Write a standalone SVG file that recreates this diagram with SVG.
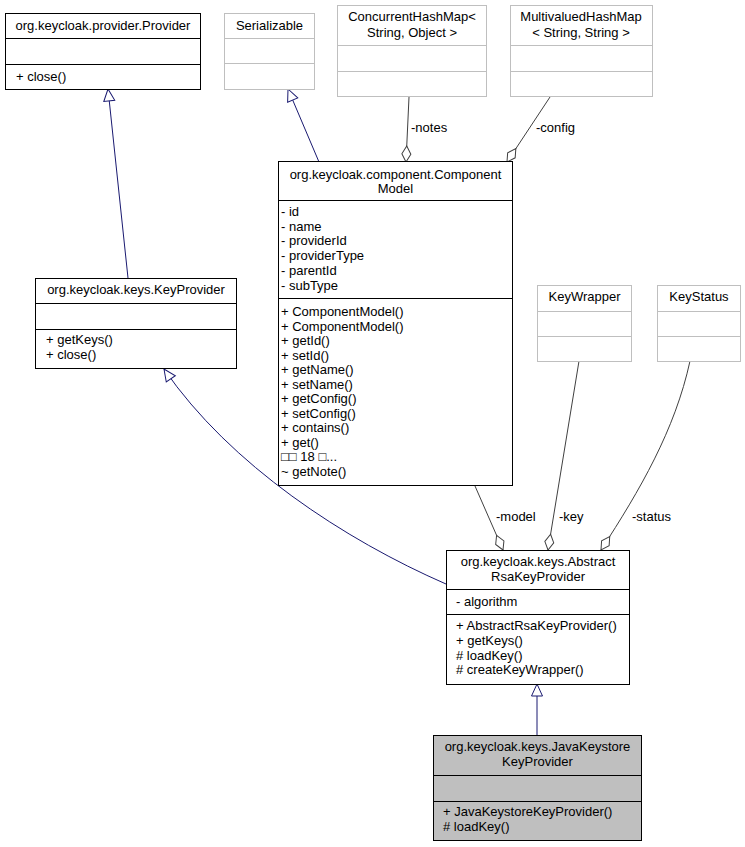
<svg xmlns="http://www.w3.org/2000/svg" width="745" height="847" viewBox="0 0 745 847">
<style>
text{font-family:"Liberation Sans",Arial,sans-serif;font-size:13px;fill:#000}
.c{text-anchor:middle}
.b{fill:#fff;stroke:#000;stroke-width:1}
.g{fill:#fff;stroke:#bfbfbf;stroke-width:1}
.cur{fill:#bfbfbf;stroke:#000;stroke-width:1}
.lb{stroke:#000;stroke-width:1}
.lg{stroke:#bfbfbf;stroke-width:1}
.inh{fill:none;stroke:#191970;stroke-width:1;marker-end:url(#tri)}
.agg{fill:none;stroke:#404040;stroke-width:1;marker-end:url(#dia)}
</style>
<defs>
<marker id="tri" markerUnits="userSpaceOnUse" markerWidth="14" markerHeight="14" refX="12" refY="5.5" orient="auto" overflow="visible"><path d="M0,0 L12,5.5 L0,11 z" fill="#fff" stroke="#191970" stroke-width="1"/></marker>
<marker id="dia" markerUnits="userSpaceOnUse" markerWidth="18" markerHeight="12" refX="16" refY="4.5" orient="auto" overflow="visible"><path d="M0,4.5 L8,0 L16,4.5 L8,9 z" fill="#fff" stroke="#404040" stroke-width="1"/></marker>
</defs>
<g id="connectors">
<path class="inh" d="M128,278 L108,89"/>
<path class="inh" d="M319,162 L288,89"/>
<path class="inh" d="M446,584 C345,540 230,465 164,369"/>
<path class="inh" d="M537,735 L537,684"/>
<path class="agg" d="M409,97 L406,162"/>
<text x="411" y="132">-notes</text>
<path class="agg" d="M550,97 L507,162"/>
<text x="536" y="132">-config</text>
<path class="agg" d="M475,486 L503,550"/>
<text x="496" y="521">-model</text>
<path class="agg" d="M579,361 L548,550"/>
<text x="559" y="521">-key</text>
<path class="agg" d="M690,361 C675,430 640,490 601,550"/>
<text x="632" y="521">-status</text>
</g>
<g id="provider">
<rect class="b" x="5.5" y="13.5" width="195" height="76"/>
<line class="lb" x1="5.5" y1="38.5" x2="200.5" y2="38.5"/>
<line class="lb" x1="5.5" y1="64.5" x2="200.5" y2="64.5"/>
<text class="c" x="103" y="30">org.keycloak.provider.Provider</text>
<text x="16" y="81">+ close()</text>
</g>
<g id="serializable">
<rect class="g" x="224.5" y="13.5" width="90" height="76"/>
<line class="lg" x1="224.5" y1="38.5" x2="314.5" y2="38.5"/>
<line class="lg" x1="224.5" y1="63.5" x2="314.5" y2="63.5"/>
<text class="c" x="269.5" y="30">Serializable</text>
</g>
<g id="concurrenthashmap">
<rect class="g" x="337.5" y="5.5" width="149" height="91"/>
<line class="lg" x1="337.5" y1="45.5" x2="486.5" y2="45.5"/>
<line class="lg" x1="337.5" y1="71.5" x2="486.5" y2="71.5"/>
<text class="c" x="412" y="21">ConcurrentHashMap&lt;</text>
<text class="c" x="412" y="37">String, Object &gt;</text>
</g>
<g id="multivaluedhashmap">
<rect class="g" x="510.5" y="5.5" width="142" height="91"/>
<line class="lg" x1="510.5" y1="45.5" x2="652.5" y2="45.5"/>
<line class="lg" x1="510.5" y1="71.5" x2="652.5" y2="71.5"/>
<text class="c" x="581" y="21">MultivaluedHashMap</text>
<text class="c" x="581" y="37">&lt; String, String &gt;</text>
</g>
<g id="componentmodel">
<rect class="b" x="278.5" y="161.5" width="234" height="324"/>
<line class="lb" x1="278.5" y1="200.5" x2="512.5" y2="200.5"/>
<line class="lb" x1="278.5" y1="298.5" x2="512.5" y2="298.5"/>
<text class="c" x="395.5" y="179">org.keycloak.component.Component</text>
<text class="c" x="395.5" y="193">Model</text>
<text x="281" y="216">- id</text>
<text x="281" y="231">- name</text>
<text x="281" y="245">- providerId</text>
<text x="281" y="260">- providerType</text>
<text x="281" y="275">- parentId</text>
<text x="281" y="290">- subType</text>
<text x="281" y="316">+ ComponentModel()</text>
<text x="281" y="330.5">+ ComponentModel()</text>
<text x="281" y="345">+ getId()</text>
<text x="281" y="359.5">+ setId()</text>
<text x="281" y="374">+ getName()</text>
<text x="281" y="388.5">+ setName()</text>
<text x="281" y="403">+ getConfig()</text>
<text x="281" y="417.5">+ setConfig()</text>
<text x="281" y="432">+ contains()</text>
<text x="281" y="446.5">+ get()</text>
<text x="281" y="461">□□ 18 □...</text>
<text x="281" y="475.5">~ getNote()</text>
</g>
<g id="keyprovider">
<rect class="b" x="35.5" y="278.5" width="201" height="90"/>
<line class="lb" x1="35.5" y1="303.5" x2="236.5" y2="303.5"/>
<line class="lb" x1="35.5" y1="329.5" x2="236.5" y2="329.5"/>
<text class="c" x="136" y="294">org.keycloak.keys.KeyProvider</text>
<text x="46" y="344">+ getKeys()</text>
<text x="46" y="358.5">+ close()</text>
</g>
<g id="keywrapper">
<rect class="g" x="537.5" y="285.5" width="94" height="76"/>
<line class="lg" x1="537.5" y1="311.5" x2="631.5" y2="311.5"/>
<line class="lg" x1="537.5" y1="336.5" x2="631.5" y2="336.5"/>
<text class="c" x="584.5" y="301">KeyWrapper</text>
</g>
<g id="keystatus">
<rect class="g" x="657.5" y="285.5" width="83" height="76"/>
<line class="lg" x1="657.5" y1="311.5" x2="740.5" y2="311.5"/>
<line class="lg" x1="657.5" y1="336.5" x2="740.5" y2="336.5"/>
<text class="c" x="699" y="301">KeyStatus</text>
</g>
<g id="abstractrsakeyprovider">
<rect class="b" x="446.5" y="550.5" width="183" height="134"/>
<line class="lb" x1="446.5" y1="589.5" x2="629.5" y2="589.5"/>
<line class="lb" x1="446.5" y1="614.5" x2="629.5" y2="614.5"/>
<text class="c" x="538" y="566">org.keycloak.keys.Abstract</text>
<text class="c" x="538" y="581">RsaKeyProvider</text>
<text x="456" y="606">- algorithm</text>
<text x="456" y="630">+ AbstractRsaKeyProvider()</text>
<text x="456" y="645">+ getKeys()</text>
<text x="456" y="659.5">#  loadKey()</text>
<text x="456" y="674">#  createKeyWrapper()</text>
</g>
<g id="javakeystorekeyprovider">
<rect class="cur" x="433.5" y="735.5" width="208" height="105"/>
<line class="lb" x1="433.5" y1="775.5" x2="641.5" y2="775.5"/>
<line class="lb" x1="433.5" y1="801.5" x2="641.5" y2="801.5"/>
<text class="c" x="537.5" y="751">org.keycloak.keys.JavaKeystore</text>
<text class="c" x="537.5" y="766">KeyProvider</text>
<text x="443" y="816">+ JavaKeystoreKeyProvider()</text>
<text x="443" y="831">#  loadKey()</text>
</g>
</svg>
